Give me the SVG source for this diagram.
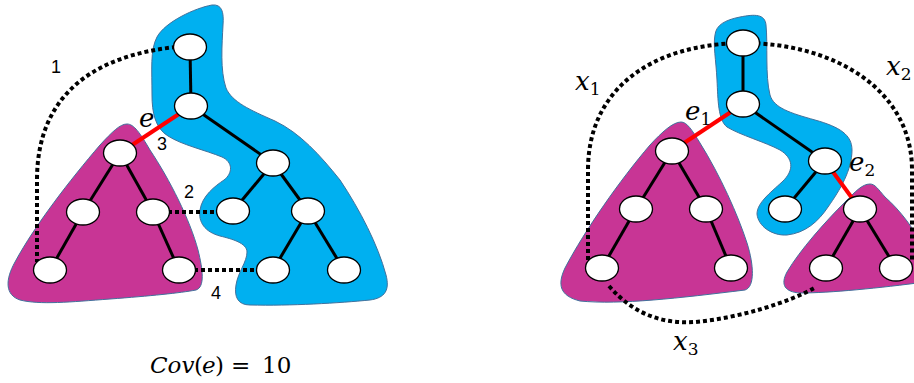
<svg xmlns="http://www.w3.org/2000/svg" width="914" height="383" viewBox="0 0 914 383">
<style>
.blue{fill:#00B0F0;stroke:#41719C;stroke-width:1}
.mag{fill:#C83595;stroke:#41719C;stroke-width:1}
.n{fill:#fff;stroke:#000;stroke-width:1.3}
.e{stroke:#000;stroke-width:3;fill:none}
.r{stroke:#FF0000;stroke-width:4;fill:none}
.d{stroke:#000;stroke-width:4;stroke-dasharray:4 3;fill:none}
.num{font-family:"Liberation Sans",Arial,sans-serif;font-size:18px;fill:#000}
.m{font-family:"DejaVu Serif",serif;font-style:italic;font-size:26px;fill:#000}
.sub{font-family:"DejaVu Serif",serif;font-size:17px;font-style:normal}
.cov{font-family:"DejaVu Serif",serif;font-size:23px;fill:#000}
</style>
<g id="regions">
<path id="blueL" class="blue" d="M157,37 C165,22 195,8 212,5 C222,4 224,12 223,25 C222,45 220,70 226,88 C232,102 250,110 275,121 C300,133 320,155 340,180 C360,210 378,245 386,275 C390,290 385,298 370,300 C340,303 290,306 250,305 C238,305 234,297 236,285 C238,272 247,262 247,252 C247,243 232,239 220,236 C205,232 198,222 200,210 C202,196 215,186 224,180 C233,173 233,162 222,157 C205,150 182,145 168,136 C155,128 152,112 152,95 C152,70 150,50 157,37 Z"/>
<path id="magL" class="mag" d="M127,124 C120,124 112,132 100,145 C70,180 35,225 15,262 C5,280 5,295 20,300 C40,305 70,302 110,299 C150,296 180,293 196,290 C205,287 203,270 198,250 C190,220 170,180 150,150 C140,133 134,124 127,124 Z"/>
<path id="blueR" class="blue" d="M715,35 C716,25 725,20 740,17 C755,14 765,14 766,25 C768,45 765,75 770,95 C774,108 790,113 815,120 C840,127 852,135 852,150 C852,170 840,190 828,207 C818,222 805,233 787,235 C772,236 758,226 757,214 C757,203 770,193 782,182 C795,170 793,158 780,150 C765,142 740,135 727,127 C718,120 718,100 717,80 C716,60 713,45 715,35 Z"/>
<path id="magR1" class="mag" d="M681,122 C673,122 662,132 650,145 C620,180 585,230 565,268 C557,285 560,296 580,301 C620,305 680,298 745,290 C755,287 754,265 747,243 C738,215 720,175 700,143 C692,130 687,122 681,122 Z"/>
<path id="magR2" class="mag" d="M870,184 C862,184 855,192 845,202 C825,222 800,250 787,272 C780,285 785,292 800,293 C830,293 880,288 925,282 L925,250 C915,230 900,210 885,197 C878,189 875,184 870,184 Z"/>
</g>
<g id="connectors">
<path class="d" d="M176,47 C100,55 37,90 37,180 L37,262"/>
<path class="d" d="M168,212 L218,212"/>
<path class="d" d="M194,270 L258,270"/>
<path class="d" d="M588,260 L588,170 C588,90 650,44 743,43 C835,43 912,90 912,170 L912,260"/>
<path class="d" d="M609,286 C635,316 665,324 695,322 C740,318 790,302 816,287"/>
<line class="e" x1="190" y1="47" x2="191" y2="106"/>
<line class="e" x1="191" y1="106" x2="273" y2="163"/>
<line class="e" x1="273" y1="163" x2="233" y2="211"/>
<line class="e" x1="273" y1="163" x2="308" y2="211"/>
<line class="e" x1="308" y1="211" x2="273" y2="270"/>
<line class="e" x1="308" y1="211" x2="344" y2="270"/>
<line class="e" x1="120" y1="153" x2="83" y2="212"/>
<line class="e" x1="120" y1="153" x2="153" y2="212"/>
<line class="e" x1="83" y1="212" x2="50" y2="270"/>
<line class="e" x1="153" y1="212" x2="179" y2="270"/>
<line class="r" x1="191" y1="106" x2="120" y2="153"/>
<line class="e" x1="743" y1="43" x2="743" y2="104"/>
<line class="e" x1="743" y1="104" x2="825" y2="161"/>
<line class="e" x1="825" y1="161" x2="785" y2="209"/>
<line class="e" x1="672" y1="151" x2="636" y2="209"/>
<line class="e" x1="672" y1="151" x2="706" y2="209"/>
<line class="e" x1="636" y1="209" x2="602" y2="268"/>
<line class="e" x1="706" y1="209" x2="731" y2="268"/>
<line class="e" x1="860" y1="209" x2="826" y2="268"/>
<line class="e" x1="860" y1="209" x2="896" y2="268"/>
<line class="r" x1="743" y1="104" x2="672" y2="151"/>
<line class="r" x1="825" y1="161" x2="860" y2="209"/>
</g>
<g id="L1"><ellipse class="n" cx="190" cy="47" rx="16.5" ry="13"/></g>
<g id="L2"><ellipse class="n" cx="191" cy="106" rx="16.5" ry="13"/></g>
<g id="L3"><ellipse class="n" cx="273" cy="163" rx="16.5" ry="13"/></g>
<g id="L4"><ellipse class="n" cx="233" cy="211" rx="16.5" ry="13"/></g>
<g id="L5"><ellipse class="n" cx="308" cy="211" rx="16.5" ry="13"/></g>
<g id="L6"><ellipse class="n" cx="273" cy="270" rx="16.5" ry="13"/></g>
<g id="L7"><ellipse class="n" cx="344" cy="270" rx="16.5" ry="13"/></g>
<g id="L8"><ellipse class="n" cx="120" cy="153" rx="16.5" ry="13"/></g>
<g id="L9"><ellipse class="n" cx="83" cy="212" rx="16.5" ry="13"/></g>
<g id="L10"><ellipse class="n" cx="153" cy="212" rx="16.5" ry="13"/></g>
<g id="L11"><ellipse class="n" cx="50" cy="270" rx="16.5" ry="13"/></g>
<g id="L12"><ellipse class="n" cx="179" cy="270" rx="16.5" ry="13"/></g>
<g id="R1"><ellipse class="n" cx="743" cy="43" rx="16.5" ry="13"/></g>
<g id="R2"><ellipse class="n" cx="743" cy="104" rx="16.5" ry="13"/></g>
<g id="R3"><ellipse class="n" cx="825" cy="161" rx="16.5" ry="13"/></g>
<g id="R4"><ellipse class="n" cx="785" cy="209" rx="16.5" ry="13"/></g>
<g id="R5"><ellipse class="n" cx="672" cy="151" rx="16.5" ry="13"/></g>
<g id="R6"><ellipse class="n" cx="636" cy="209" rx="16.5" ry="13"/></g>
<g id="R7"><ellipse class="n" cx="706" cy="209" rx="16.5" ry="13"/></g>
<g id="R8"><ellipse class="n" cx="602" cy="268" rx="16.5" ry="13"/></g>
<g id="R9"><ellipse class="n" cx="731" cy="268" rx="16.5" ry="13"/></g>
<g id="R10"><ellipse class="n" cx="860" cy="209" rx="16.5" ry="13"/></g>
<g id="R11"><ellipse class="n" cx="826" cy="268" rx="16.5" ry="13"/></g>
<g id="R12"><ellipse class="n" cx="896" cy="268" rx="16.5" ry="13"/></g>
<g id="labels">
<text class="num" x="51" y="73">1</text>
<text class="num" x="157" y="150">3</text>
<text class="num" x="184" y="198">2</text>
<text class="num" x="211" y="299">4</text>
<text class="m" x="139" y="127">e</text>
<text class="m" x="575" y="90">x<tspan class="sub" dy="5">1</tspan></text>
<text class="m" x="886" y="75">x<tspan class="sub" dy="5">2</tspan></text>
<text class="m" x="685" y="120">e<tspan class="sub" dy="5">1</tspan></text>
<text class="m" x="849" y="171">e<tspan class="sub" dy="5">2</tspan></text>
<text class="m" x="673" y="350">x<tspan class="sub" dy="5">3</tspan></text>
<text class="cov" x="150" y="373"><tspan font-style="italic">Cov</tspan><tspan x="194">(</tspan><tspan x="202" font-style="italic">e</tspan><tspan x="215">)</tspan><tspan x="231">=</tspan><tspan x="262">10</tspan></text>
</g>
</svg>
